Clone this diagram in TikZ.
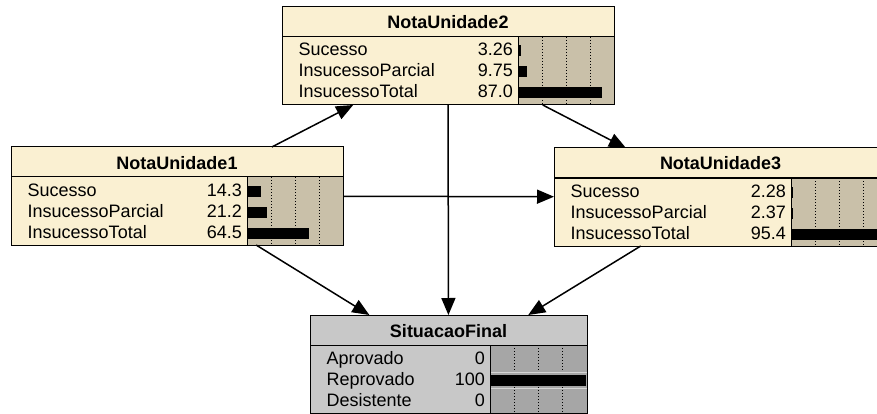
\documentclass[tikz,border=0pt]{standalone}
\usepackage{fontspec}
\setmainfont{Liberation Sans}
\usetikzlibrary{arrows.meta}
\definecolor{creamc}{HTML}{FAF0D2}
\definecolor{tanc}{HTML}{C9C0A9}
\definecolor{lgreyc}{HTML}{C8C8C8}
\definecolor{dgreyc}{HTML}{A6A6A6}
\definecolor{sepc}{HTML}{D6D6D6}
\tikzset{
  boxframe/.style={draw=black, line width=1pt, inner sep=0pt, outer sep=0pt, anchor=north west},
  arr/.style={line width=1.5pt, -{Triangle[length=17pt,width=14pt]}},
  lbl/.style={font=\fontsize{18}{20}\selectfont, anchor=base west, inner sep=0pt},
  val/.style={font=\fontsize{18}{20}\selectfont, anchor=base east, inner sep=0pt},
  ttl/.style={font=\bfseries\fontsize{18}{20}\selectfont, anchor=base, inner sep=0pt},
  gridln/.style={dash pattern=on 1pt off 2pt, line width=1pt},
  divline/.style={line width=1pt},
  sepline/.style={draw=sepc, line width=1.5pt},
}
% #1 name, #2 L, #3 T, #4 text width, #5 title, #6 body colour, #7 bar colour, #8 total width
\newcommand\bnbox[8]{%
  \fill[#6] (#2,#3) rectangle ++(#8,98);
  \fill[#7] ({#2+#4},{#3+30}) rectangle ({#2+#8},{#3+98});
  \foreach \g in {24.5,48.5,72.5}
    \draw[gridln] ({#2+#4+\g},{#3+30}) -- ({#2+#4+\g},{#3+98});
  \draw[divline] (#2,{#3+30}) -- ({#2+#8},{#3+30});
  \draw[divline] ({#2+#4},{#3+30}) -- ({#2+#4},{#3+98});
  \node[boxframe, minimum width=#8pt, minimum height=98pt] (#1) at (#2,#3) {};
  \node[ttl] (#1-title) at ({#2+#8/2},{#3+22}) {#5};
}
% #1 name, #2 L, #3 T, #4 text width, #5 index, #6 label, #7 value, #8 percent
\newcommand\bnrow[8]{%
  \node[lbl] (#1-l#5) at ({#2+16.5},{#3+49+21*#5}) {#6};
  \node[val] (#1-v#5) at ({#2+#4-5},{#3+49+21*#5}) {#7};
  \fill[black] ({#2+#4},{#3+38.5+21*#5}) rectangle ({#2+#4+0.96*#8},{#3+49.5+21*#5});
}
\begin{document}
\begin{tikzpicture}[x=1pt,y=-1pt]
\useasboundingbox (0,0) rectangle (877,414);

% NotaUnidade2
\bnbox{nu2}{282}{7}{236}{NotaUnidade2}{creamc}{tanc}{332}
\bnrow{nu2}{282}{7}{236}{0}{Sucesso}{3.26}{3.26}
\bnrow{nu2}{282}{7}{236}{1}{InsucessoParcial}{9.75}{9.75}
\bnrow{nu2}{282}{7}{236}{2}{InsucessoTotal}{87.0}{87.0}

% NotaUnidade1
\bnbox{nu1}{11}{147}{236}{NotaUnidade1}{creamc}{tanc}{332}
\bnrow{nu1}{11}{147}{236}{0}{Sucesso}{14.3}{14.3}
\bnrow{nu1}{11}{147}{236}{1}{InsucessoParcial}{21.2}{21.2}
\bnrow{nu1}{11}{147}{236}{2}{InsucessoTotal}{64.5}{64.5}

% NotaUnidade3
\bnbox{nu3}{554}{148}{237}{NotaUnidade3}{creamc}{tanc}{333}
\bnrow{nu3}{554}{148}{237}{0}{Sucesso}{2.28}{2.28}
\bnrow{nu3}{554}{148}{237}{1}{InsucessoParcial}{2.37}{2.37}
\bnrow{nu3}{554}{148}{237}{2}{InsucessoTotal}{95.4}{95.4}

% SituacaoFinal
\bnbox{sf}{310}{315}{180}{SituacaoFinal}{lgreyc}{dgreyc}{277}
\draw[sepline] (491,372.5) -- (586.5,372.5);
\draw[sepline] (491,388.5) -- (586.5,388.5);
\bnrow{sf}{310}{315}{180}{0}{Aprovado}{0}{0}
\bnrow{sf}{310}{315}{180}{1}{Reprovado}{100}{100}
\bnrow{sf}{310}{315}{180}{2}{Desistente}{0}{0}

% connectors
\draw[arr] (nu1) -- (nu2);
\draw[arr] (nu2) -- (nu3);
\draw[arr] (nu1) -- (nu3);
\draw[arr] (nu2) -- (sf);
\draw[arr] (nu1) -- (sf);
\draw[arr] (nu3) -- (sf);
\end{tikzpicture}
\end{document}
